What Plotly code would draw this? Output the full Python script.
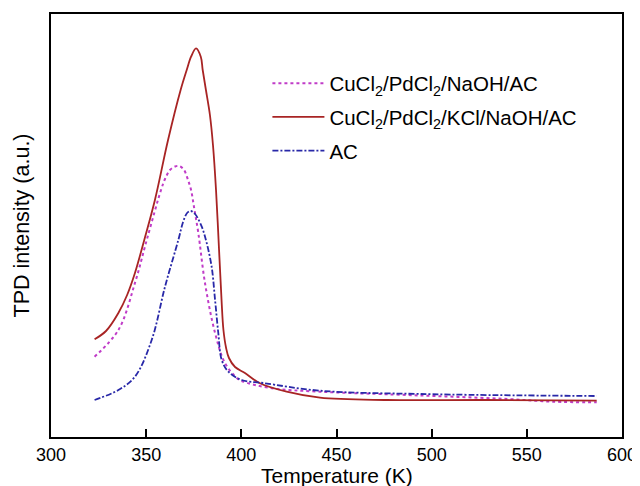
import plotly.graph_objects as go

# Temperature (K) and TPD intensity (a.u.)
t_naoh = [322.9, 335.4, 344.1, 350.3, 357.8, 359.9, 362.5, 365.2, 367.4, 369.9, 372.0, 373.6,
          375.1, 377.4, 380.9, 386.2, 391.4, 397.6, 400.2, 415.1, 441.3, 480.0, 511.2, 540.0,
          563.8, 586.7]
i_naoh = [80.3, 107, 154, 197, 247, 258, 267, 270.5, 271, 267, 257, 247,
          230.3, 204, 154, 104, 74, 59, 56, 49, 45.3, 42.5, 40.3, 38,
          35.3, 34.7]

t_kcl = [322.9, 328.9, 335.4, 340.0, 344.1, 349.0, 354.6, 361.5, 368.1, 371.3, 373.6, 376.2,
         378.7, 379.7, 381.4, 383.5, 385.1, 386.7, 388.3, 389.6, 390.6, 392.0, 393.5, 396.7,
         401.9, 409.8, 423.8, 441.3, 476.4, 528.9, 586.7]
i_kcl = [97.7, 106, 124, 142, 164, 197, 237, 297, 347, 367, 380.3, 388.7,
         380.3, 367, 347, 322, 292, 247, 187, 137, 107, 89, 79, 70,
         64, 53.7, 45.3, 39.3, 37, 37, 36.3]

t_ac = [322.9, 335.4, 344.1, 352.9, 359.9, 366.9, 369.4, 371.5, 373.4, 375.7, 379.2, 381.4,
        384.4, 386.2, 387.9, 389.7, 393.2, 400.2, 411.4, 441.3, 493.9, 586.7]
i_ac = [37, 47, 60.3, 97, 150.3, 197, 215, 224, 226, 223, 210.3, 197,
        170.3, 137, 104, 77, 65.3, 57, 54, 46.3, 43, 41]

names = ["CuCl<sub>2</sub>/PdCl<sub>2</sub>/NaOH/AC",
         "CuCl<sub>2</sub>/PdCl<sub>2</sub>/KCl/NaOH/AC",
         "AC"]
x_title = "Temperature (K)"
y_title = "TPD intensity (a.u.)"

fig = go.Figure()
fig.add_trace(go.Scatter(x=t_naoh, y=i_naoh, mode="lines", name=names[0], legendgroup="a",
                         line=dict(color="#C03CC8", width=2, dash="dot", shape="spline", smoothing=1)))
fig.add_trace(go.Scatter(x=t_kcl, y=i_kcl, mode="lines", name=names[1], legendgroup="b",
                         line=dict(color="#A82424", width=1.8, shape="spline", smoothing=1)))
fig.add_trace(go.Scatter(x=t_ac, y=i_ac, mode="lines", name=names[2], legendgroup="c",
                         line=dict(color="#2828A8", width=1.8, dash="6px,2px,2px,2px", shape="spline", smoothing=1)))

# the page body has an 8px margin, so the figure is sized and offset for it
fig.update_layout(
    width=632, height=478,
    margin=dict(l=43, r=18, t=6, b=49),
    paper_bgcolor="white", plot_bgcolor="white",
    font=dict(family="Liberation Sans, Arial, sans-serif", size=18, color="black"),
    showlegend=True,
    legend=dict(x=0.379, y=0.883, xanchor="left", yanchor="top", itemwidth=52,
                bgcolor="rgba(0,0,0,0)", font=dict(size=20.5), tracegroupgap=4),
    annotations=[dict(text=x_title, x=0.5, y=-0.090, xref="paper", yref="paper",
                      xanchor="center", yanchor="middle", showarrow=False,
                      font=dict(size=21))],
)
fig.update_xaxes(range=[300, 600], tickvals=[300, 350, 400, 450, 500, 550, 600],
                 ticks="inside", ticklen=8, tickwidth=1.5, tickcolor="black",
                 showline=True, linecolor="black", linewidth=2, mirror=True,
                 showgrid=False, zeroline=False, automargin=False,
                 tickfont=dict(size=18))
fig.update_yaxes(range=[0, 423], showticklabels=False, ticks="",
                 showline=True, linecolor="black", linewidth=2, mirror=True,
                 showgrid=False, zeroline=False, automargin=False,
                 title=dict(text=y_title, font=dict(size=21.5), standoff=13))

fig.write_html("out.html")
